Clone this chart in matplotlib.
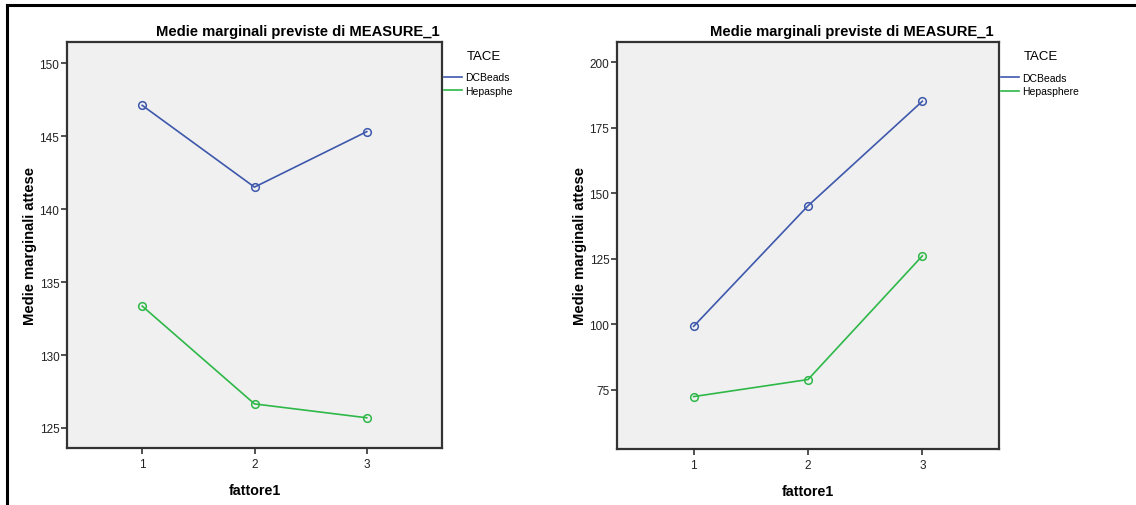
import matplotlib.pyplot as plt
from matplotlib.lines import Line2D

plt.rcParams["font.family"] = ["Liberation Sans", "DejaVu Sans"]

FACTOR = [1, 2, 3]
DCBEADS_LEFT = [147.1, 141.5, 145.3]
HEPA_LEFT = [133.35, 126.65, 125.7]
DCBEADS_RIGHT = [99.2, 145.2, 185.1]
HEPA_RIGHT = [72.4, 78.9, 126.1]

YTICKS_LEFT = [125, 130, 135, 140, 145, 150]
YTICKS_RIGHT = [75, 100, 125, 150, 175, 200]
LEGEND_LEFT = ["DCBeads", "Hepasphe"]
LEGEND_RIGHT = ["DCBeads", "Hepasphere"]

TITLE = "Medie marginali previste di MEASURE_1"
BLUE = "#3e58ac"
GREEN = "#2eb848"
W, H = 1136, 506


def draw_panel(ax, dc, hep, yticks, ylim, labels):
    ax.set_facecolor("#f0f0f0")
    ax.plot(FACTOR, dc, color=BLUE, lw=1.2, marker="o", ms=5.5,
            mfc="none", mec=BLUE, mew=1.1)
    ax.plot(FACTOR, hep, color=GREEN, lw=1.2, marker="o", ms=5.5,
            mfc="none", mec=GREEN, mew=1.1)
    ax.set_xlim(0.33, 3.67)
    ax.set_ylim(*ylim)
    ax.set_xticks(FACTOR)
    ax.set_yticks(yticks)
    ax.tick_params(axis="both", direction="out", length=4.5, width=1.2,
                   color="#333333", labelsize=8.5, labelcolor="#222222", pad=1)
    ax.tick_params(axis="x", pad=3)
    for s in ax.spines.values():
        s.set_color("#333333")
        s.set_linewidth(1.6)
    ax.set_title(TITLE, fontsize=10.6, fontweight="bold", pad=5, x=0.615)
    ax.set_xlabel("fattore1", fontsize=10.3, fontweight="bold", labelpad=9)
    ax.set_ylabel("Medie marginali attese", fontsize=10.6, fontweight="bold", labelpad=1.5)

    ax.text(1.065, 0.965, "TACE", transform=ax.transAxes, fontsize=9.5,
            ha="left", va="center")
    handles = [Line2D([], [], color=BLUE, lw=1.2), Line2D([], [], color=GREEN, lw=1.2)]
    ax.legend(handles, labels, loc="upper left", bbox_to_anchor=(1.005, 0.925),
              frameon=False, fontsize=7.5, handlelength=1.75, handletextpad=0.25,
              labelspacing=0.35, borderpad=0, borderaxespad=0)


def main():
    fig = plt.figure(figsize=(W / 100, H / 100), dpi=100)

    ax1 = fig.add_axes([67 / W, 1 - 449 / H, 375 / W, 406 / H])
    draw_panel(ax1, DCBEADS_LEFT, HEPA_LEFT, YTICKS_LEFT, (123.63, 151.44), LEGEND_LEFT)

    ax2 = fig.add_axes([617 / W, 1 - 450 / H, 382 / W, 407 / H])
    draw_panel(ax2, DCBEADS_RIGHT, HEPA_RIGHT, YTICKS_RIGHT, (52.4, 207.7), LEGEND_RIGHT)

    # outer frame lines (top and left)
    fig.add_artist(Line2D([6.5 / W, 1], [1 - 6 / H, 1 - 6 / H], color="black", lw=2.2,
                          transform=fig.transFigure))
    fig.add_artist(Line2D([6.5 / W, 6.5 / W], [0, 1 - 6 / H], color="black", lw=2.2,
                          transform=fig.transFigure))

    fig.savefig("out.png", dpi=100)


if __name__ == "__main__":
    main()
